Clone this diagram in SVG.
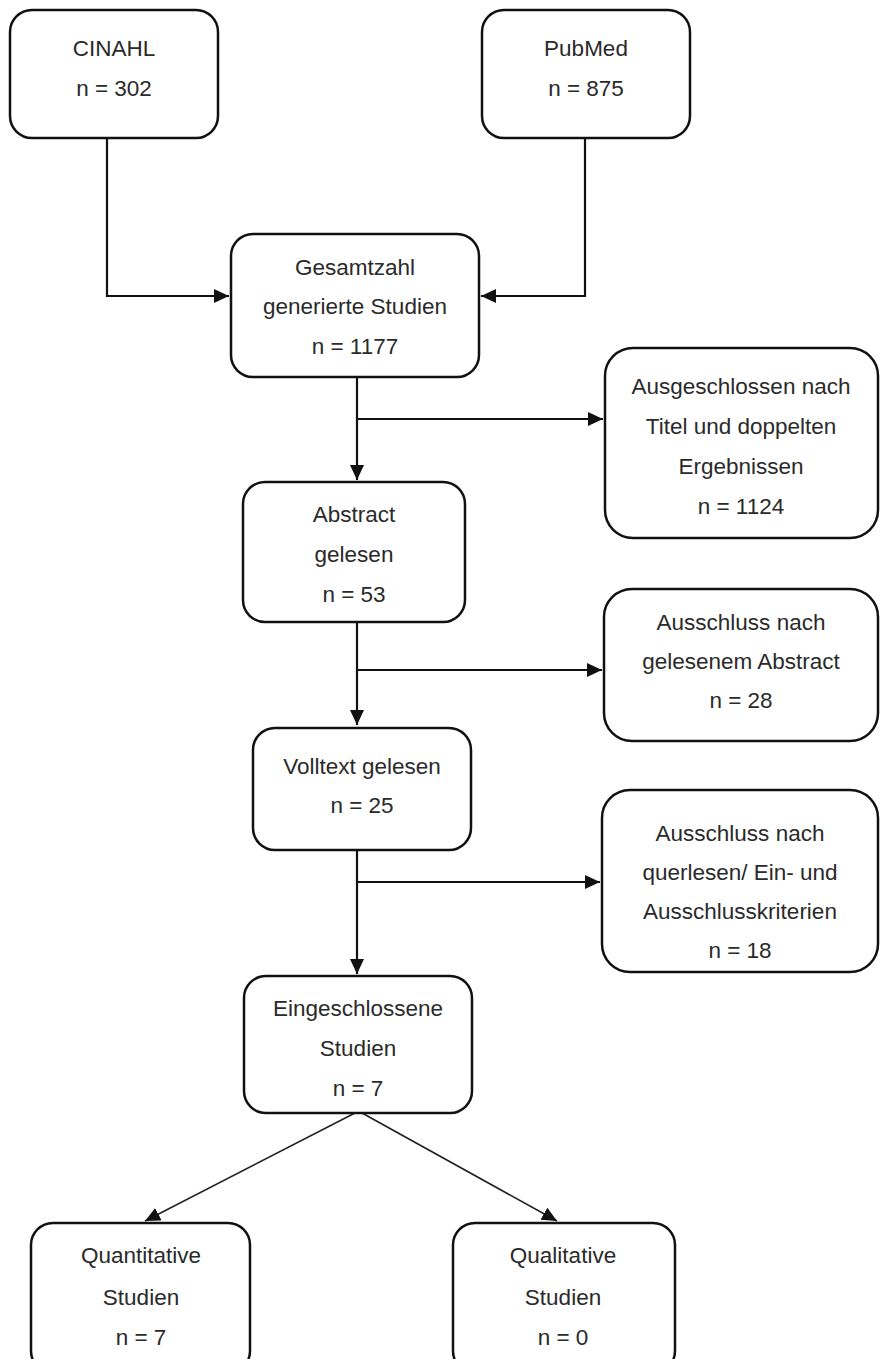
<svg xmlns="http://www.w3.org/2000/svg" width="880" height="1359" viewBox="0 0 880 1359">
<style>
.box{fill:#fff;stroke:#111;stroke-width:2.5}
.t{font-family:"Liberation Sans",Arial,sans-serif;font-size:22.5px;fill:#2a2a2a;text-anchor:middle}
.c{fill:none;stroke:#111;stroke-width:2.2}
.d{fill:none;stroke:#222;stroke-width:1.6}
</style>
<defs>
<marker id="ah" markerUnits="userSpaceOnUse" markerWidth="17" markerHeight="15" refX="15" refY="7" orient="auto">
<path d="M0,0 L15,7 L0,14 z" fill="#111"/>
</marker>
</defs>
<rect width="880" height="1359" fill="#fff"/>
<g id="connectors">
<path class="c" d="M107,138 V296 H229" marker-end="url(#ah)"/>
<path class="c" d="M585,138 V296 H481" marker-end="url(#ah)"/>
<path class="c" d="M357,377 V480" marker-end="url(#ah)"/>
<path class="c" d="M357,419 H603" marker-end="url(#ah)"/>
<path class="c" d="M357,622 V725" marker-end="url(#ah)"/>
<path class="c" d="M357,670 H602" marker-end="url(#ah)"/>
<path class="c" d="M357,850 V974" marker-end="url(#ah)"/>
<path class="c" d="M357,882 H600" marker-end="url(#ah)"/>
<path class="d" d="M355,1113 L145,1221" marker-end="url(#ah)"/>
<path class="d" d="M362,1113 L557,1221" marker-end="url(#ah)"/>
</g>
<g id="cinahl">
<rect class="box" x="10" y="10" width="208" height="128" rx="22"/>
<text class="t" x="114" y="56">CINAHL</text>
<text class="t" x="114" y="96">n = 302</text>
</g>
<g id="pubmed">
<rect class="box" x="482" y="10" width="208" height="128" rx="22"/>
<text class="t" x="586" y="56">PubMed</text>
<text class="t" x="586" y="96">n = 875</text>
</g>
<g id="gesamt">
<rect class="box" x="231" y="234" width="248" height="143" rx="22"/>
<text class="t" x="355" y="275">Gesamtzahl</text>
<text class="t" x="355" y="314">generierte Studien</text>
<text class="t" x="355" y="354">n = 1177</text>
</g>
<g id="ausgeschlossen">
<rect class="box" x="605" y="348" width="273" height="190" rx="28"/>
<text class="t" x="741" y="394">Ausgeschlossen nach</text>
<text class="t" x="741" y="434">Titel und doppelten</text>
<text class="t" x="741" y="474">Ergebnissen</text>
<text class="t" x="741" y="514">n = 1124</text>
</g>
<g id="abstract">
<rect class="box" x="243" y="482" width="222" height="140" rx="22"/>
<text class="t" x="354" y="522">Abstract</text>
<text class="t" x="354" y="562">gelesen</text>
<text class="t" x="354" y="602">n = 53</text>
</g>
<g id="ausschluss-abstract">
<rect class="box" x="604" y="589" width="274" height="152" rx="28"/>
<text class="t" x="741" y="630">Ausschluss nach</text>
<text class="t" x="741" y="669">gelesenem Abstract</text>
<text class="t" x="741" y="708">n = 28</text>
</g>
<g id="volltext">
<rect class="box" x="253" y="728" width="218" height="122" rx="22"/>
<text class="t" x="362" y="774">Volltext gelesen</text>
<text class="t" x="362" y="813">n = 25</text>
</g>
<g id="ausschluss-kriterien">
<rect class="box" x="602" y="790" width="276" height="182" rx="28"/>
<text class="t" x="740" y="841">Ausschluss nach</text>
<text class="t" x="740" y="880">querlesen/ Ein- und</text>
<text class="t" x="740" y="919">Ausschlusskriterien</text>
<text class="t" x="740" y="958">n = 18</text>
</g>
<g id="eingeschlossen">
<rect class="box" x="244" y="976" width="228" height="137" rx="22"/>
<text class="t" x="358" y="1016">Eingeschlossene</text>
<text class="t" x="358" y="1056">Studien</text>
<text class="t" x="358" y="1096">n = 7</text>
</g>
<g id="quantitativ">
<rect class="box" x="31" y="1223" width="219" height="150" rx="22"/>
<text class="t" x="141" y="1263">Quantitative</text>
<text class="t" x="141" y="1305">Studien</text>
<text class="t" x="141" y="1345">n = 7</text>
</g>
<g id="qualitativ">
<rect class="box" x="453" y="1223" width="222" height="150" rx="22"/>
<text class="t" x="563" y="1263">Qualitative</text>
<text class="t" x="563" y="1305">Studien</text>
<text class="t" x="563" y="1345">n = 0</text>
</g>
</svg>
